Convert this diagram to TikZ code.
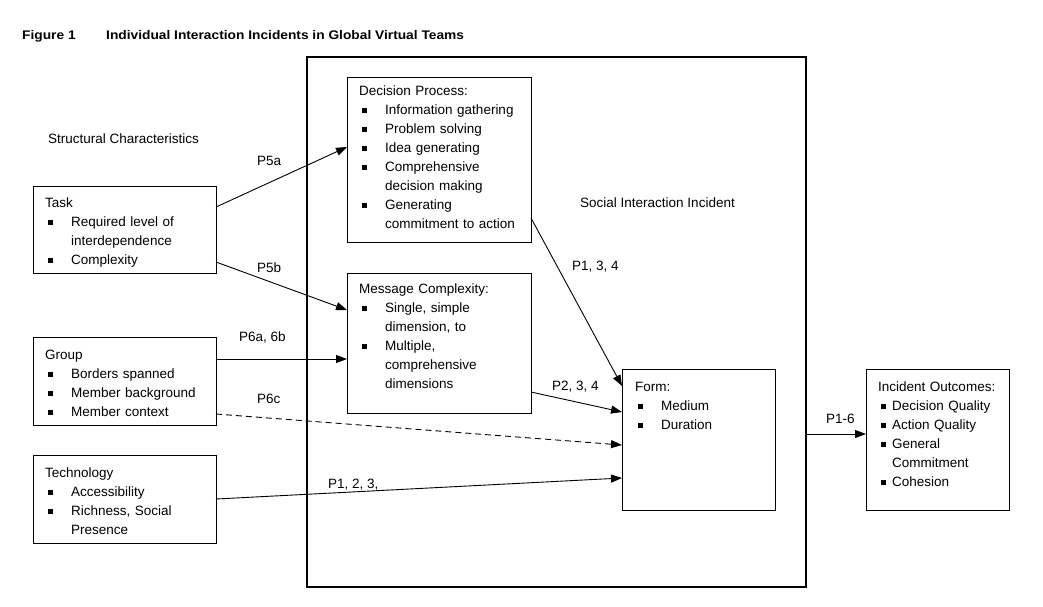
\documentclass[tikz,border=0pt]{standalone}
\usepackage{fontspec}
\setmainfont{Liberation Sans}
\newfontfamily\titlefont[FakeStretch=1.1]{Liberation Sans}
\usetikzlibrary{arrows.meta}
\newcommand\bul{\rule[1.5pt]{4.5pt}{4.5pt}}
\newcommand\bi[2][26pt]{\par\noindent\makebox[#1][l]{\hspace{3pt}\bul}#2}
\newcommand\ci[2][26pt]{\par\noindent\hspace*{#1}#2}
\tikzset{
  box/.style={draw, line width=0.9pt, inner sep=0pt, outer sep=0pt, anchor=north west},
  bigbox/.style={draw, line width=2.6pt, inner sep=0pt, outer sep=0pt, anchor=north west},
  txt/.style={anchor=base west, inner sep=0pt, align=left, text width=170pt, font=\fontsize{13.5}{19}\selectfont},
  lbl/.style={anchor=base west, inner sep=0pt, font=\fontsize{13.5}{16}\selectfont},
  conn/.style={line width=0.9pt, -{Triangle[length=11pt,width=8pt]}},
  dconn/.style={conn, dash pattern=on 6pt off 4pt},
  ttl/.style={anchor=base west, inner sep=0pt, font=\titlefont\bfseries\fontsize{12.5}{15}\selectfont}
}
\begin{document}
\begin{tikzpicture}[x=1pt, y=-1pt]
\useasboundingbox (0,0) rectangle (1043,606);
\fill[white] (0,0) rectangle (1043,606);

% title
\node[ttl] (fig) at (22,39) {Figure 1};
\node[ttl] (title) at (106,39) {Individual Interaction Incidents in Global Virtual Teams};

% big box
\node[bigbox, minimum width=499pt, minimum height=530pt] (big) at (307,57) {};

% boxes
\node[box, minimum width=183pt, minimum height=87pt] (task) at (33,186) {};
\node[box, minimum width=183pt, minimum height=88pt] (group) at (33,337) {};
\node[box, minimum width=183pt, minimum height=88pt] (tech) at (33,455) {};
\node[box, minimum width=184pt, minimum height=165pt] (dp) at (347,77) {};
\node[box, minimum width=184pt, minimum height=140pt] (mc) at (347,273) {};
\node[box, minimum width=153pt, minimum height=141pt] (form) at (622,369) {};
\node[box, minimum width=143pt, minimum height=141pt] (out) at (866,369) {};

% box texts
\node[txt] (tasktxt) at ([xshift=12pt, yshift=-21pt]task.north west)
  {Task\bi{Required level of}\ci{interdependence}\bi{Complexity}};
\node[txt] (grouptxt) at ([xshift=12pt, yshift=-22pt]group.north west)
  {Group\bi{Borders spanned}\bi{Member background}\bi{Member context}};
\node[txt] (techtxt) at ([xshift=12pt, yshift=-22pt]tech.north west)
  {Technology\bi{Accessibility}\bi{Richness, Social}\ci{Presence}};
\node[txt] (dptxt) at ([xshift=12pt, yshift=-18pt]dp.north west)
  {Decision Process:\bi{Information gathering}\bi{Problem solving}\bi{Idea generating}\bi{Comprehensive}\ci{decision making}\bi{Generating}\ci{commitment to action}};
\node[txt] (mctxt) at ([xshift=12pt, yshift=-20pt]mc.north west)
  {Message Complexity:\bi{Single, simple}\ci{dimension, to}\bi{Multiple,}\ci{comprehensive}\ci{dimensions}};
\node[txt, text width=140pt] (formtxt) at ([xshift=13pt, yshift=-22pt]form.north west)
  {Form:\bi{Medium}\bi{Duration}};
\node[txt, text width=135pt] (outtxt) at ([xshift=12pt, yshift=-22pt]out.north west)
  {Incident Outcomes:\bi[14pt]{Decision Quality}\bi[14pt]{Action Quality}\bi[14pt]{General}\ci[14pt]{Commitment}\bi[14pt]{Cohesion}};

% free labels
\node[lbl] (sc) at (48,143) {Structural Characteristics};
\node[lbl] (sii) at (580,207) {Social Interaction Incident};

% connectors
\draw[conn] ([yshift=-21pt]task.north east) -- ([yshift=-70pt]dp.north west);
\draw[conn] ([yshift=-76pt]task.north east) -- ([yshift=-37pt]mc.north west);
\draw[conn] ([yshift=-22pt]group.north east) -- ([yshift=-86pt]mc.north west);
\draw[dconn] ([yshift=-77pt]group.north east) -- ([yshift=-76pt]form.north west);
\draw[conn] ([yshift=-44pt]tech.north east) -- ([yshift=-109pt]form.north west);
\draw[conn] ([yshift=-141pt]dp.north east) -- ([yshift=-17pt]form.north west);
\draw[conn] ([yshift=-119pt]mc.north east) -- ([yshift=-43pt]form.north west);
\draw[conn] ([yshift=-377pt]big.north east) -- ([yshift=-65pt]out.north west);

% connector labels
\node[lbl] (l5a) at (257,165) {P5a};
\node[lbl] (l5b) at (257,272) {P5b};
\node[lbl] (l6ab) at (239,341) {P6a, 6b};
\node[lbl] (l6c) at (257,403) {P6c};
\node[lbl] (l123) at (328,488) {P1, 2, 3,};
\node[lbl] (l234) at (552,390) {P2, 3, 4};
\node[lbl] (l134) at (572,270) {P1, 3, 4};
\node[lbl] (l16) at (826,423) {P1-6};
\end{tikzpicture}
\end{document}
